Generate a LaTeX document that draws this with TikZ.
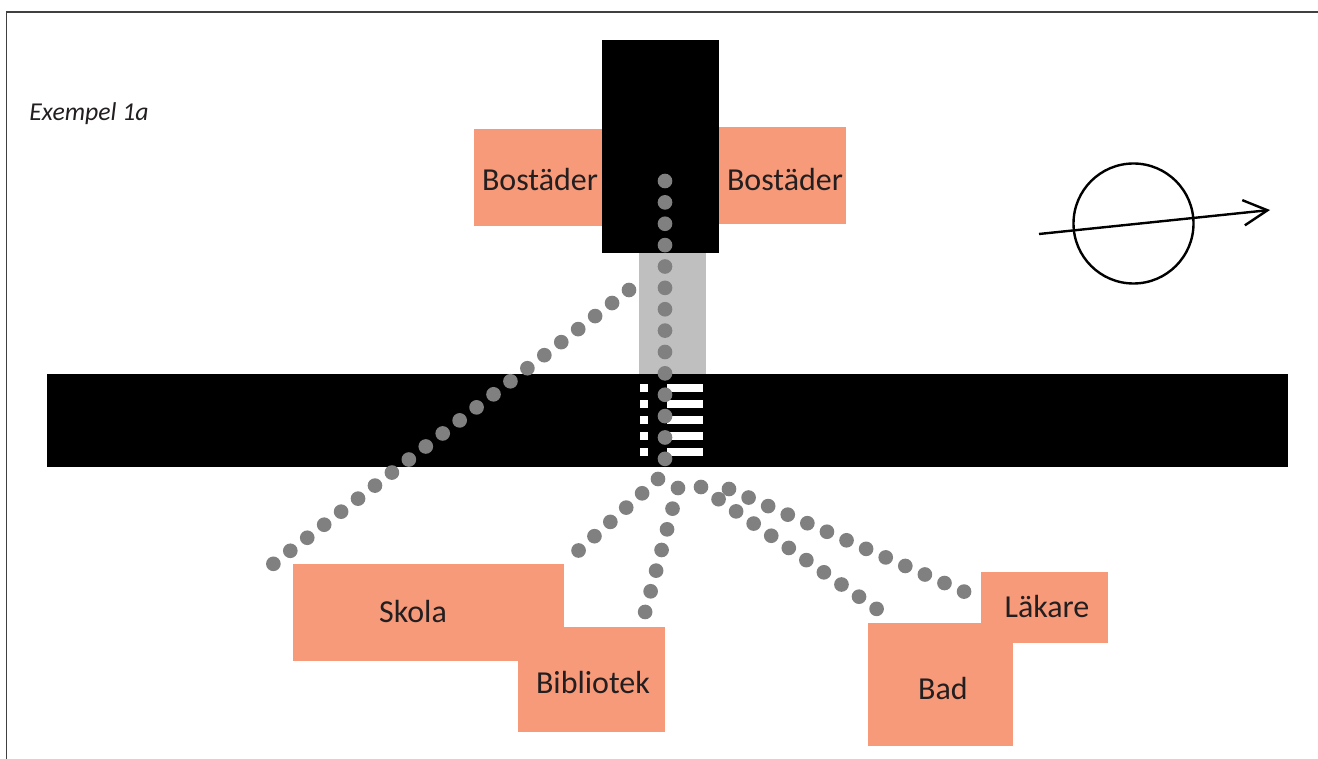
\documentclass[tikz,border=0pt]{standalone}
\usepackage{xcolor}
\usepackage{fontspec}
\setmainfont{Carlito}
\usetikzlibrary{arrows.meta}

\definecolor{lot}{HTML}{F79A7A}
\definecolor{ink}{HTML}{231F20}
\tikzset{
  area/.style={fill=lot, inner sep=0pt, minimum width=#1},
  label/.style={text=ink, font=\fontsize{24}{27}\selectfont, inner sep=0pt},
  walk/.style={draw=gray, line width=11pt, line cap=round, dash pattern=on 0pt off 16.03pt},
}

\begin{document}
\begin{tikzpicture}[x=0.75pt,y=-0.75pt]
\useasboundingbox (0,0) rectangle (1318,759);
\draw[line width=1.3pt, draw=black!75] (6.5,759)--(6.5,12)--(1318,12);

\node[text=ink, font=\fontsize{19.3}{21}\selectfont\itshape, inner sep=0pt] (title) at (89,114) {Exempel 1a};

\node[area=96pt, minimum height=72.75pt] (bostader1) at (538,177.5) {};
\node[area=95.25pt, minimum height=72.75pt] (bostader2) at (782.5,175.5) {};
\node[fill=black, inner sep=0pt, minimum width=87.75pt, minimum height=159.75pt] (hus) at (660.5,146.5) {};
\node[fill=black!25, inner sep=0pt, minimum width=50.25pt, minimum height=90.75pt] (gang) at (672.5,313.5) {};
\node[fill=black, inner sep=0pt, minimum width=930.75pt, minimum height=69.75pt] (vag) at (667.5,420.5) {};

\foreach \y in {384,400,416,432,448}{
  \fill[white] (640,\y) rectangle (648,\y+8);
  \fill[white] (667,\y) rectangle (703,\y+8);
}

\node[area=203.25pt, minimum height=72.75pt] (skola) at (428.5,612.5) {};
\node[area=110.25pt, minimum height=78.75pt] (bibliotek) at (591.5,679.5) {};
\node[area=95.25pt, minimum height=53.25pt] (lakare) at (1044.5,607.5) {};
\node[area=108.75pt, minimum height=92.25pt] (bad) at (940.5,684.5) {};

\node[label] (t1) at (540,180) {Bostäder};
\node[label] (t2) at (785,180) {Bostäder};
\node[label] (t3) at (413,612) {Skola};
\node[label] (t4) at (593,683) {Bibliotek};
\node[label] (t5) at (943,689) {Bad};
\node[label] (t6) at (1047,607) {Läkare};

% walking routes
\coordinate (d1) at (665,181);
\coordinate (d2) at (665,459.5);
\coordinate (e1) at (629,290);
\coordinate (e2) at (272.5,564.5);
\coordinate (f1) at (658,479);
\coordinate (f2) at (578,551);
\coordinate (g1) at (678,488);
\coordinate (g2) at (645,612.5);
\coordinate (h1) at (701,487);
\coordinate (h2) at (877.5,609.5);
\coordinate (i1) at (729,489);
\coordinate (i2) at (965,592);
\draw[walk] (d1)--(d2);
\draw[walk] (e1)--(e2);
\draw[walk] (f1)--(f2);
\draw[walk] (g1)--(g2);
\draw[walk] (h1)--(h2);
\draw[walk] (i1)--(i2);

% north sign
\node[draw=black, line width=1.8pt, circle, inner sep=0pt, minimum size=90pt] (ring) at (1133.5,223.5) {};
\coordinate (n1) at (1039,234);
\coordinate (n2) at (1270,210);
\draw[line width=1.8pt, -{Straight Barb[length=18pt,width=19pt]}] (n1)--(n2);
\end{tikzpicture}
\end{document}
